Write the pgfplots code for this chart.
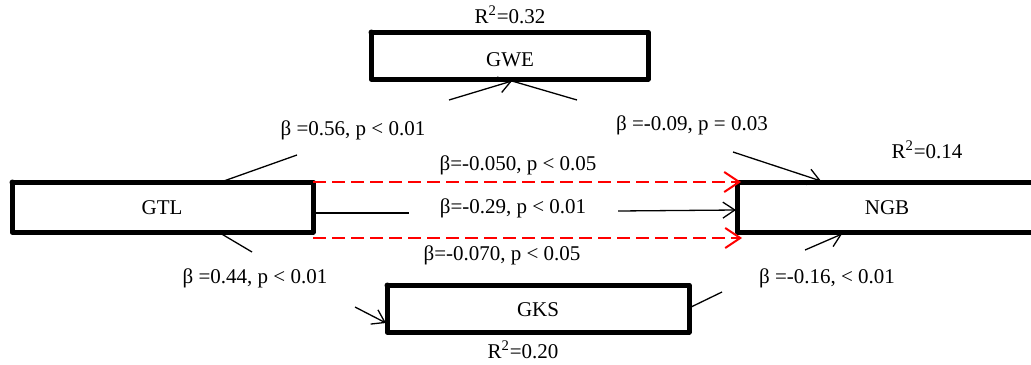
\documentclass[border=0pt]{standalone}
\usepackage{fontspec}
\setmainfont{Liberation Serif}
\usepackage{pgfplots}
\pgfplotsset{compat=1.18}
\usetikzlibrary{arrows.meta}
\tikzset{
  box/.style={black, line width=2.5pt, line join=round, line cap=round},
  ln/.style={black, line width=0.65pt},
  arr/.style={black, line width=0.65pt, -{Straight Barb[length=6pt,width=8pt,line width=0.65pt]}},
  rarr/.style={red, line width=1pt, dash pattern=on 6.5pt off 3pt, -{Straight Barb[length=7.5pt,width=10pt,line width=1pt]}},
  lab/.style={font=\fontsize{10.5}{12}\selectfont, inner sep=0pt}
}
\begin{document}
\begin{tikzpicture}
\begin{axis}[scale only axis, width=515.5pt, height=182pt,
  xmin=0, xmax=1031, ymin=0, ymax=364, y dir=reverse, hide axis, clip=true]
% boxes
\addplot[box, no marks] coordinates {(371,32) (648,32) (648,79) (371,79) (371,32)};
\addplot[box, no marks] coordinates {(12,182) (313,182) (313,232) (12,232) (12,182)};
\addplot[box, no marks, line cap=butt] coordinates {(1031,182) (737,182) (737,232) (1031,232)};
\addplot[box, no marks] coordinates {(387,285) (689,285) (689,332) (387,332) (387,285)};
% GTL -> GWE
\addplot[ln, no marks] coordinates {(221,182) (297,155)};
\addplot[arr, no marks] coordinates {(449,100) (512,81)};
% GWE -> NGB
\addplot[ln, no marks] coordinates {(512,81) (577,100)};
\addplot[arr, no marks] coordinates {(733,152) (821,181)};
% GTL -> NGB direct
\addplot[ln, no marks] coordinates {(313,213) (409,213)};
\addplot[arr, no marks] coordinates {(618,211) (736,210)};
% indirect (red dashed)
\addplot[rarr, no marks] coordinates {(313,182) (741,182)};
\addplot[rarr, no marks] coordinates {(313,238) (742,238)};
% GTL -> GKS
\addplot[ln, no marks] coordinates {(220,233) (252,252)};
\addplot[arr, no marks] coordinates {(355,307) (386,323)};
% GKS -> NGB
\addplot[ln, no marks] coordinates {(689,308) (722,292)};
\addplot[arr, no marks] coordinates {(805,250) (842,234)};
% labels
\node[lab] at (axis cs:510,15) {R\textsuperscript{2}=0.32};
\node[lab] at (axis cs:510,60) {GWE};
\node[lab] at (axis cs:162,208) {GTL};
\node[lab] at (axis cs:887,208) {NGB};
\node[lab] at (axis cs:538,310) {GKS};
\node[lab] at (axis cs:927,150) {R\textsuperscript{2}=0.14};
\node[lab] at (axis cs:523,350) {R\textsuperscript{2}=0.20};
\node[lab] at (axis cs:353,130) {β =0.56, p < 0.01};
\node[lab] at (axis cs:692,125) {β =-0.09, p = 0.03};
\node[lab] at (axis cs:518,165) {β=-0.050, p < 0.05};
\node[lab] at (axis cs:513,208) {β=-0.29, p < 0.01};
\node[lab] at (axis cs:502,255) {β=-0.070, p < 0.05};
\node[lab] at (axis cs:255,278) {β =0.44, p < 0.01};
\node[lab] at (axis cs:827,278) {β =-0.16, < 0.01};
\end{axis}
\pgfresetboundingbox
\path (current axis.south west) rectangle (current axis.north east);
\end{tikzpicture}
\end{document}
